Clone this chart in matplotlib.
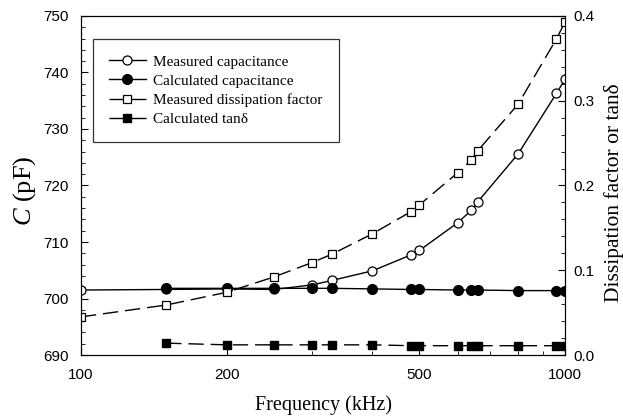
import matplotlib.pyplot as plt
from matplotlib.ticker import MultipleLocator, FixedLocator, NullFormatter

plt.rcParams['mathtext.fontset'] = 'custom'
plt.rcParams['mathtext.rm'] = 'Liberation Serif'
plt.rcParams['mathtext.it'] = 'Liberation Serif:italic'

# data
freq_meas = [100, 150, 200, 250, 300, 330, 400, 480, 500, 600, 640, 660, 800, 960, 1000]
cap_meas = [701.5, 701.6, 701.7, 701.6, 702.4, 703.2, 704.9, 707.7, 708.5,
            713.4, 715.6, 717.1, 725.6, 736.3, 738.8]
df_meas = [0.045, 0.059, 0.074, 0.092, 0.109, 0.119, 0.143, 0.169, 0.177,
           0.215, 0.230, 0.241, 0.296, 0.373, 0.393]

freq_calc = [150, 200, 250, 300, 330, 400, 480, 500, 600, 640, 660, 800, 960, 1000]
cap_calc = [701.8, 701.8, 701.8, 701.8, 701.8, 701.7, 701.6, 701.6,
            701.5, 701.5, 701.5, 701.4, 701.4, 701.4]
tan_calc = [0.014, 0.012, 0.012, 0.012, 0.012, 0.012, 0.011, 0.011,
            0.011, 0.011, 0.011, 0.011, 0.011, 0.011]

serif = 'Liberation Serif'
sans = 'Liberation Sans'

fig = plt.figure(figsize=(6.23, 4.16), dpi=100)
ax = fig.add_axes([0.130, 0.1466, 0.777, 0.815])
ax2 = ax.twinx()

l1, = ax.plot(freq_meas, cap_meas, '-', color='black', lw=1,
              marker='o', mfc='white', mec='black', ms=6.5, mew=0.9,
              label='Measured capacitance')
l2, = ax.plot(freq_calc, cap_calc, '-', color='black', lw=1,
              marker='o', mfc='black', mec='black', ms=7,
              label='Calculated capacitance', zorder=3)
l3, = ax2.plot(freq_meas, df_meas, color='black', lw=1, dashes=(11, 5),
               marker='s', mfc='white', mec='black', ms=6, mew=0.9,
               label='Measured dissipation factor')
l4, = ax2.plot(freq_calc, tan_calc, color='black', lw=1, dashes=(11, 5),
               marker='s', mfc='black', mec='black', ms=6,
               label='Calculated tan\u03b4')

ax.set_xscale('log')
ax.set_xlim(100, 1000)
ax.set_ylim(690, 750)
ax2.set_ylim(0, 0.4)

ax.xaxis.set_major_locator(FixedLocator([100, 200, 500, 1000]))
ax.xaxis.set_minor_locator(FixedLocator([300, 400, 600, 700, 800, 900]))
ax.xaxis.set_minor_formatter(NullFormatter())
ax.set_xticklabels(['100', '200', '500', '1000'])
ax.yaxis.set_major_locator(MultipleLocator(10))
ax.yaxis.set_minor_locator(MultipleLocator(2))
ax2.yaxis.set_major_locator(MultipleLocator(0.1))
ax2.yaxis.set_minor_locator(MultipleLocator(0.02))

ax.tick_params(axis='both', which='both', direction='in', top=False, right=False)
ax.tick_params(axis='x', which='major', length=5, labelsize=11, pad=9)
ax.tick_params(axis='y', which='major', length=5, labelsize=11, pad=9)
ax.tick_params(which='minor', length=3)
ax2.tick_params(axis='y', which='both', direction='in')
ax2.tick_params(which='major', length=5, labelsize=11, pad=6)
ax2.tick_params(which='minor', length=3)
for lab in ax.get_xticklabels() + ax.get_yticklabels() + ax2.get_yticklabels():
    lab.set_family(sans)

ax.set_xlabel('Frequency (kHz)', fontsize=14.5, family=serif, labelpad=10)
ax.set_ylabel('$\\mathit{C}$ (pF)', fontsize=19, family=serif)
ax.yaxis.set_label_coords(-0.089, 0.484)
ax2.set_ylabel('Dissipation factor or tan\u03b4', fontsize=15.5, family=serif)
ax2.yaxis.set_label_coords(1.081, 0.478)

leg = ax.legend(handles=[l1, l2, l3, l4], loc='upper left',
                bbox_to_anchor=(0.025, 0.932), borderaxespad=0,
                prop={'family': serif, 'size': 11},
                frameon=True, fancybox=False, edgecolor='black',
                handlelength=2.4, handletextpad=0.5, borderpad=1.05, labelspacing=0.35)
leg.get_frame().set_linewidth(0.9)

plt.savefig('out.png', dpi=100)
